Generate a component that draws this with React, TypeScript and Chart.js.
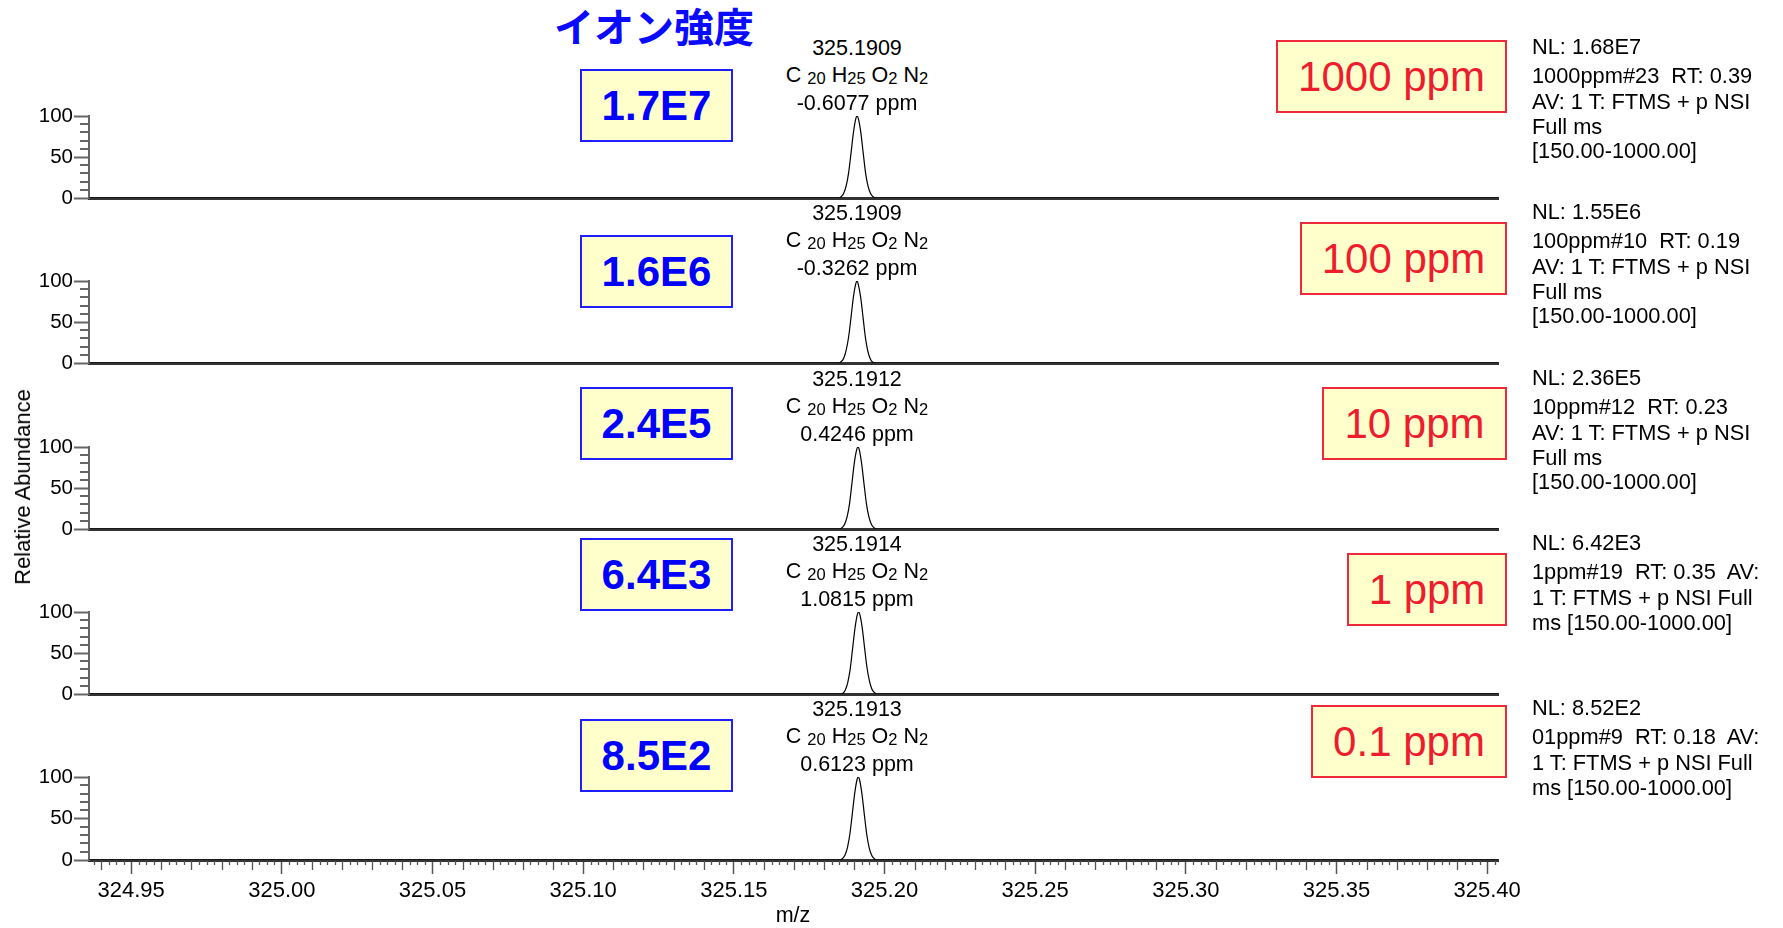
import React, { useEffect, useRef } from "react";
import { Chart, registerables } from "chart.js";

Chart.register(...registerables);

// ---------------- data ----------------
const xMin = 324.936;
const xMax = 325.4036;
const xTickValues = [324.95, 325.0, 325.05, 325.1, 325.15, 325.2, 325.25, 325.3, 325.35, 325.4];
const yTickValues = [0, 50, 100];
const yMinorTickValues = [10, 20, 30, 40, 60, 70, 80, 90];

const mz1 = [324.936, 325.1849, 325.1857, 325.1865, 325.1873, 325.1881, 325.1889, 325.1897, 325.1905, 325.1909, 325.1913, 325.1921, 325.1929, 325.1937, 325.1945, 325.1953, 325.1961, 325.1969, 325.4036];
const rel1 = [0, 0, 2, 6, 15, 31, 55, 80, 97, 100, 97, 81, 56, 31, 15, 6, 2, 0, 0];

const mz2 = [324.936, 325.1849, 325.1857, 325.1865, 325.1873, 325.1881, 325.1889, 325.1897, 325.1905, 325.1909, 325.1913, 325.1921, 325.1929, 325.1937, 325.1945, 325.1953, 325.1961, 325.1969, 325.4036];
const rel2 = [0, 0, 2, 6, 16, 32, 56, 81, 97, 100, 96, 80, 55, 30, 14, 5, 1, 0, 0];

const mz3 = [324.936, 325.1852, 325.186, 325.1868, 325.1876, 325.1884, 325.1892, 325.19, 325.1908, 325.1912, 325.1916, 325.1924, 325.1932, 325.194, 325.1948, 325.1956, 325.1964, 325.1972, 325.4036];
const rel3 = [0, 0, 2, 6, 15, 31, 56, 81, 97, 100, 97, 80, 55, 31, 15, 6, 2, 0, 0];

const mz4 = [324.936, 325.1854, 325.1862, 325.187, 325.1878, 325.1886, 325.1894, 325.1902, 325.191, 325.1914, 325.1918, 325.1926, 325.1934, 325.1942, 325.195, 325.1958, 325.1966, 325.1974, 325.4036];
const rel4 = [0, 0, 1, 5, 14, 30, 55, 80, 97, 100, 97, 81, 56, 32, 16, 6, 2, 0, 0];

const mz5 = [324.936, 325.1853, 325.1861, 325.1869, 325.1877, 325.1885, 325.1893, 325.1901, 325.1909, 325.1913, 325.1917, 325.1925, 325.1933, 325.1941, 325.1949, 325.1957, 325.1965, 325.1973, 325.4036];
const rel5 = [0, 0, 2, 6, 15, 31, 55, 80, 97, 100, 97, 80, 55, 31, 15, 6, 2, 0, 0];

const peakMzLabels = ["325.1909", "325.1909", "325.1912", "325.1914", "325.1913"];
const ppmErrorLabels = ["-0.6077 ppm", "-0.3262 ppm", "0.4246 ppm", "1.0815 ppm", "0.6123 ppm"];
const intensityLabels = ["1.7E7", "1.6E6", "2.4E5", "6.4E3", "8.5E2"];
const concentrationLabels = ["1000 ppm", "100 ppm", "10 ppm", "1 ppm", "0.1 ppm"];
const nlLabels = ["NL: 1.68E7", "NL: 1.55E6", "NL: 2.36E5", "NL: 6.42E3", "NL: 8.52E2"];
const scanLines1 = ["1000ppm#23  RT: 0.39", "AV: 1 T: FTMS + p NSI", "Full ms", "[150.00-1000.00]"];
const scanLines2 = ["100ppm#10  RT: 0.19", "AV: 1 T: FTMS + p NSI", "Full ms", "[150.00-1000.00]"];
const scanLines3 = ["10ppm#12  RT: 0.23", "AV: 1 T: FTMS + p NSI", "Full ms", "[150.00-1000.00]"];
const scanLines4 = ["1ppm#19  RT: 0.35  AV:", "1 T: FTMS + p NSI Full", "ms [150.00-1000.00]"];
const scanLines5 = ["01ppm#9  RT: 0.18  AV:", "1 T: FTMS + p NSI Full", "ms [150.00-1000.00]"];
const titleText = "イオン強度";
const yAxisTitle = "Relative Abundance";
const xAxisTitle = "m/z";

const panelMz = [mz1, mz2, mz3, mz4, mz5];
const panelRel = [rel1, rel2, rel3, rel4, rel5];
const panelScanLines = [scanLines1, scanLines2, scanLines3, scanLines4, scanLines5];

// ---------------- layout ----------------
const W = 1783;
const H = 928;
const AXIS0 = [198, 363, 529, 694, 859];
const PLOT_H = 82;
const PAD_T = 14;
const PLOT_LEFT = 89;
const PLOT_RIGHT = 1498;
const PEAK_LABEL_X = 857;
const INFO_X = 1532;
const BLUE_BOX_LEFT = 580;
const BLUE_BOX_W = 153;
const BOX_H = 73;
const BLUE_BOX_TOP = [69, 235, 387, 538, 719];
const RED_BOX_RIGHT = 1507;
const RED_BOX_LEFT = [1276, 1300, 1322, 1347, 1311];
const RED_BOX_TOP = [40, 222, 387, 553, 705];
const SANS = "'Liberation Sans', Arial, Helvetica, sans-serif";
const SMALL = 21.5;
const INFO_SIZE = 21.8;

const minorTickPlugin = {
  id: "minorTicks",
  afterDraw(chart: any, _args: any, opts: any) {
    const ctx = chart.ctx;
    const ys = chart.scales.y;
    const xs = chart.scales.x;
    const area = chart.chartArea;
    ctx.save();
    ctx.strokeStyle = "#666";
    ctx.lineWidth = 2;
    for (const v of yMinorTickValues) {
      const py = Math.round(ys.getPixelForValue(v));
      ctx.beginPath();
      ctx.moveTo(area.left - 9, py);
      ctx.lineTo(area.left, py);
      ctx.stroke();
    }
    if (opts && opts.x) {
      ctx.strokeStyle = "#555";
      ctx.lineWidth = 1.3;
      const k0 = Math.ceil(xMin / 0.0025);
      const k1 = Math.floor(xMax / 0.0025);
      for (let k = k0; k <= k1; k++) {
        if (k % 20 === 0) continue;
        const len = k % 4 === 0 ? 10 : 5;
        const px = Math.round(xs.getPixelForValue(k * 0.0025)) + 0.5;
        ctx.beginPath();
        ctx.moveTo(px, area.bottom + 1);
        ctx.lineTo(px, area.bottom + len);
        ctx.stroke();
      }
    }
    ctx.restore();
  },
};

function SpectrumPanel({ index }: { index: number }) {
  const ref = useRef<HTMLCanvasElement>(null);
  const bottomAxis = index === 4;
  const top = AXIS0[index] - PLOT_H - PAD_T;
  const height = bottomAxis ? H - top : PLOT_H + PAD_T * 2;
  const xTickPad = 3.5;
  const bottomPad = bottomAxis ? H - AXIS0[index] - 14 - xTickPad - 22 * 1.2 - 4.5 : PAD_T;

  useEffect(() => {
    const mz = panelMz[index];
    const rel = panelRel[index];
    const chart = new Chart(ref.current as HTMLCanvasElement, {
      type: "line",
      data: {
        datasets: [
          {
            data: mz.map((x, i) => ({ x, y: rel[i] })),
            borderColor: "#000",
            borderWidth: 1.2,
            pointRadius: 0,
            fill: false,
            cubicInterpolationMode: "monotone",
          } as any,
        ],
      },
      options: {
        responsive: false,
        animation: false,
        events: [],
        layout: {
          padding: { top: PAD_T, bottom: bottomPad, left: 0, right: W - PLOT_RIGHT },
        },
        plugins: {
          legend: { display: false },
          tooltip: { enabled: false },
          minorTicks: { x: bottomAxis },
        } as any,
        scales: {
          x: {
            type: "linear",
            min: xMin,
            max: xMax,
            afterBuildTicks: (s: any) => {
              s.ticks = xTickValues.map((v) => ({ value: v }));
            },
            grid: {
              drawOnChartArea: false,
              drawTicks: bottomAxis,
              tickLength: 14,
              tickColor: "#555",
              tickWidth: 1.5,
            },
            border: { color: "#333", width: 3 },
            ticks: {
              display: bottomAxis,
              padding: xTickPad,
              maxRotation: 0,
              autoSkip: false,
              color: "#000",
              font: { family: SANS, size: 22 },
              callback: (v: any) => Number(v).toFixed(2),
            },
          },
          y: {
            type: "linear",
            min: 0,
            max: 100,
            afterBuildTicks: (s: any) => {
              s.ticks = yTickValues.map((v) => ({ value: v }));
            },
            afterFit: (s: any) => {
              s.width = PLOT_LEFT;
            },
            grid: {
              drawOnChartArea: false,
              drawTicks: true,
              tickLength: 15,
              tickColor: "#666",
              tickWidth: 2,
            },
            border: { color: "#666", width: 2 },
            ticks: { padding: 1, color: "#000", font: { family: SANS, size: 20.5 } },
          },
        },
      } as any,
      plugins: [minorTickPlugin],
    });
    return () => chart.destroy();
  }, [index]);

  return (
    <canvas
      ref={ref}
      width={W}
      height={height}
      style={{ position: "absolute", left: 0, top, width: W, height }}
    />
  );
}

function TextAt(props: {
  x: number;
  baseline: number;
  size: number;
  center?: boolean;
  color?: string;
  weight?: string | number;
  family?: string;
  children: React.ReactNode;
}) {
  const { x, baseline, size, center, color, weight, family, children } = props;
  return (
    <div
      style={{
        position: "absolute",
        left: x,
        top: baseline - 0.8465 * size,
        fontFamily: family || SANS,
        fontSize: size,
        lineHeight: 1,
        fontWeight: weight || 400,
        color: color || "#000",
        whiteSpace: "pre",
        transform: center ? "translateX(-50%)" : undefined,
      }}
    >
      {children}
    </div>
  );
}

const subStyle: React.CSSProperties = { fontSize: 16.5, verticalAlign: "-2px" };

function Formula({ x, baseline }: { x: number; baseline: number }) {
  return (
    <TextAt x={x} baseline={baseline} size={SMALL} center>
      C <span style={subStyle}>20</span> H<span style={subStyle}>25</span> O
      <span style={subStyle}>2</span> N<span style={subStyle}>2</span>
    </TextAt>
  );
}

export default function App() {
  return (
    <div
      style={{
        position: "absolute",
        left: 0,
        top: 0,
        width: W,
        height: H,
        overflow: "hidden",
        background: "#fff",
      }}
    >
      {[0, 1, 2, 3, 4].map((i) => (
        <SpectrumPanel key={"p" + i} index={i} />
      ))}

      <div
        style={{
          position: "absolute",
          left: 554,
          top: 5,
          fontFamily: "'Noto Sans CJK JP', sans-serif",
          fontWeight: 700,
          fontSize: 40,
          lineHeight: 1,
          color: "#0a0aff",
          whiteSpace: "pre",
        }}
      >
        {titleText}
      </div>

      <div
        style={{
          position: "absolute",
          left: 22.7,
          top: 487,
          transform: "translate(-50%, -50%) rotate(-90deg)",
          fontFamily: SANS,
          fontSize: 22,
          lineHeight: 1,
          color: "#000",
          whiteSpace: "pre",
        }}
      >
        {yAxisTitle}
      </div>

      <TextAt x={793} baseline={923.5} size={SMALL} center>
        {xAxisTitle}
      </TextAt>

      {[0, 1, 2, 3, 4].map((i) => {
        const a = AXIS0[i];
        const lines = panelScanLines[i];
        const infoBase = [-115, -88.3, -63.8, -40];
        return (
          <React.Fragment key={"a" + i}>
            <TextAt x={PEAK_LABEL_X} baseline={a - 142} size={SMALL} center>
              {peakMzLabels[i]}
            </TextAt>
            <Formula x={PEAK_LABEL_X} baseline={a - 114.5} />
            <TextAt x={PEAK_LABEL_X} baseline={a - 87} size={SMALL} center>
              {ppmErrorLabels[i]}
            </TextAt>

            <div
              style={{
                position: "absolute",
                left: BLUE_BOX_LEFT,
                top: BLUE_BOX_TOP[i],
                width: BLUE_BOX_W,
                height: BOX_H,
                boxSizing: "border-box",
                border: "2px solid #1e1eff",
                background: "#ffffcc",
                display: "flex",
                alignItems: "center",
                justifyContent: "center",
                fontFamily: SANS,
                fontWeight: 700,
                fontSize: 42,
                lineHeight: 1,
                color: "#0000ff",
              }}
            >
              {intensityLabels[i]}
            </div>

            <div
              style={{
                position: "absolute",
                left: RED_BOX_LEFT[i],
                top: RED_BOX_TOP[i],
                width: RED_BOX_RIGHT - RED_BOX_LEFT[i],
                height: BOX_H,
                boxSizing: "border-box",
                border: "2px solid #ee2a3a",
                background: "#ffffcc",
                display: "flex",
                alignItems: "center",
                justifyContent: "center",
                fontFamily: SANS,
                fontSize: 42,
                lineHeight: 1,
                color: "#ee1c2c",
                whiteSpace: "pre",
              }}
            >
              {concentrationLabels[i]}
            </div>

            <TextAt x={INFO_X} baseline={a - 144} size={INFO_SIZE}>
              {nlLabels[i]}
            </TextAt>
            {lines.map((t, j) => (
              <TextAt key={j} x={INFO_X} baseline={a + infoBase[j]} size={INFO_SIZE}>
                {t}
              </TextAt>
            ))}
          </React.Fragment>
        );
      })}
    </div>
  );
}
